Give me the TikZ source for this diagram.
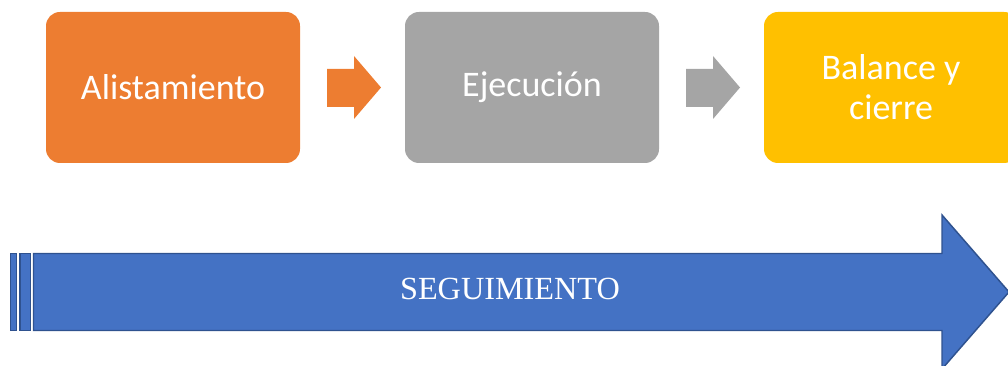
\documentclass[tikz,border=0pt]{standalone}
\usepackage{fontspec}
\setmainfont{Liberation Serif}
\newfontfamily\calib{Carlito}
\definecolor{orangeA}{HTML}{ED7D31}
\definecolor{grayA}{HTML}{A5A5A5}
\definecolor{yellowA}{HTML}{FFC000}
\definecolor{blueA}{HTML}{4472C4}
\definecolor{blueB}{HTML}{2F528F}
\tikzset{
  stage/.style={rounded corners=10.5pt, minimum width=190.5pt, minimum height=113.25pt,
    inner sep=0pt, text=white, font=\calib\fontsize{27}{30}\selectfont, align=center},
  bigarrow/.style={fill=blueA, draw=blueB, line width=1.1pt, line join=miter},
}
\begin{document}
\begin{tikzpicture}[x=0.75pt,y=-0.75pt]
\useasboundingbox (0,0) rectangle (1008,366);
\clip (0,0) rectangle (1008,366);
% stages
\node[stage, fill=orangeA] (s1) at (173,87.5) {Alistamiento};
\node[stage, fill=grayA] (s2) at (532,87.5) {Ejecución};
\node[stage, fill=yellowA] (s3) at (891,87.5) {Balance y\\cierre};
% small arrows
\fill[orangeA] (327,69) -- (354,69) -- (354,56) -- (381,87.5) -- (354,119) -- (354,107) -- (327,107) -- cycle;
\fill[grayA] (686,69) -- (713,69) -- (713,56) -- (740,87.5) -- (713,119) -- (713,107) -- (686,107) -- cycle;
% big arrow strips
\draw[bigarrow] (10.5,253.5) rectangle (16.5,330.5);
\draw[bigarrow] (20,253.5) rectangle (30.5,330.5);
\draw[bigarrow] (33.5,253.5) -- (942,253.5) -- (942,215) -- (1009,292) -- (942,369) -- (942,330.5) -- (33.5,330.5) -- cycle;
\node[inner sep=0pt, anchor=base, text=white, font=\fontsize{24.2}{28}\selectfont] (seg) at (510,300) {SEGUIMIENTO};
\end{tikzpicture}
\end{document}
